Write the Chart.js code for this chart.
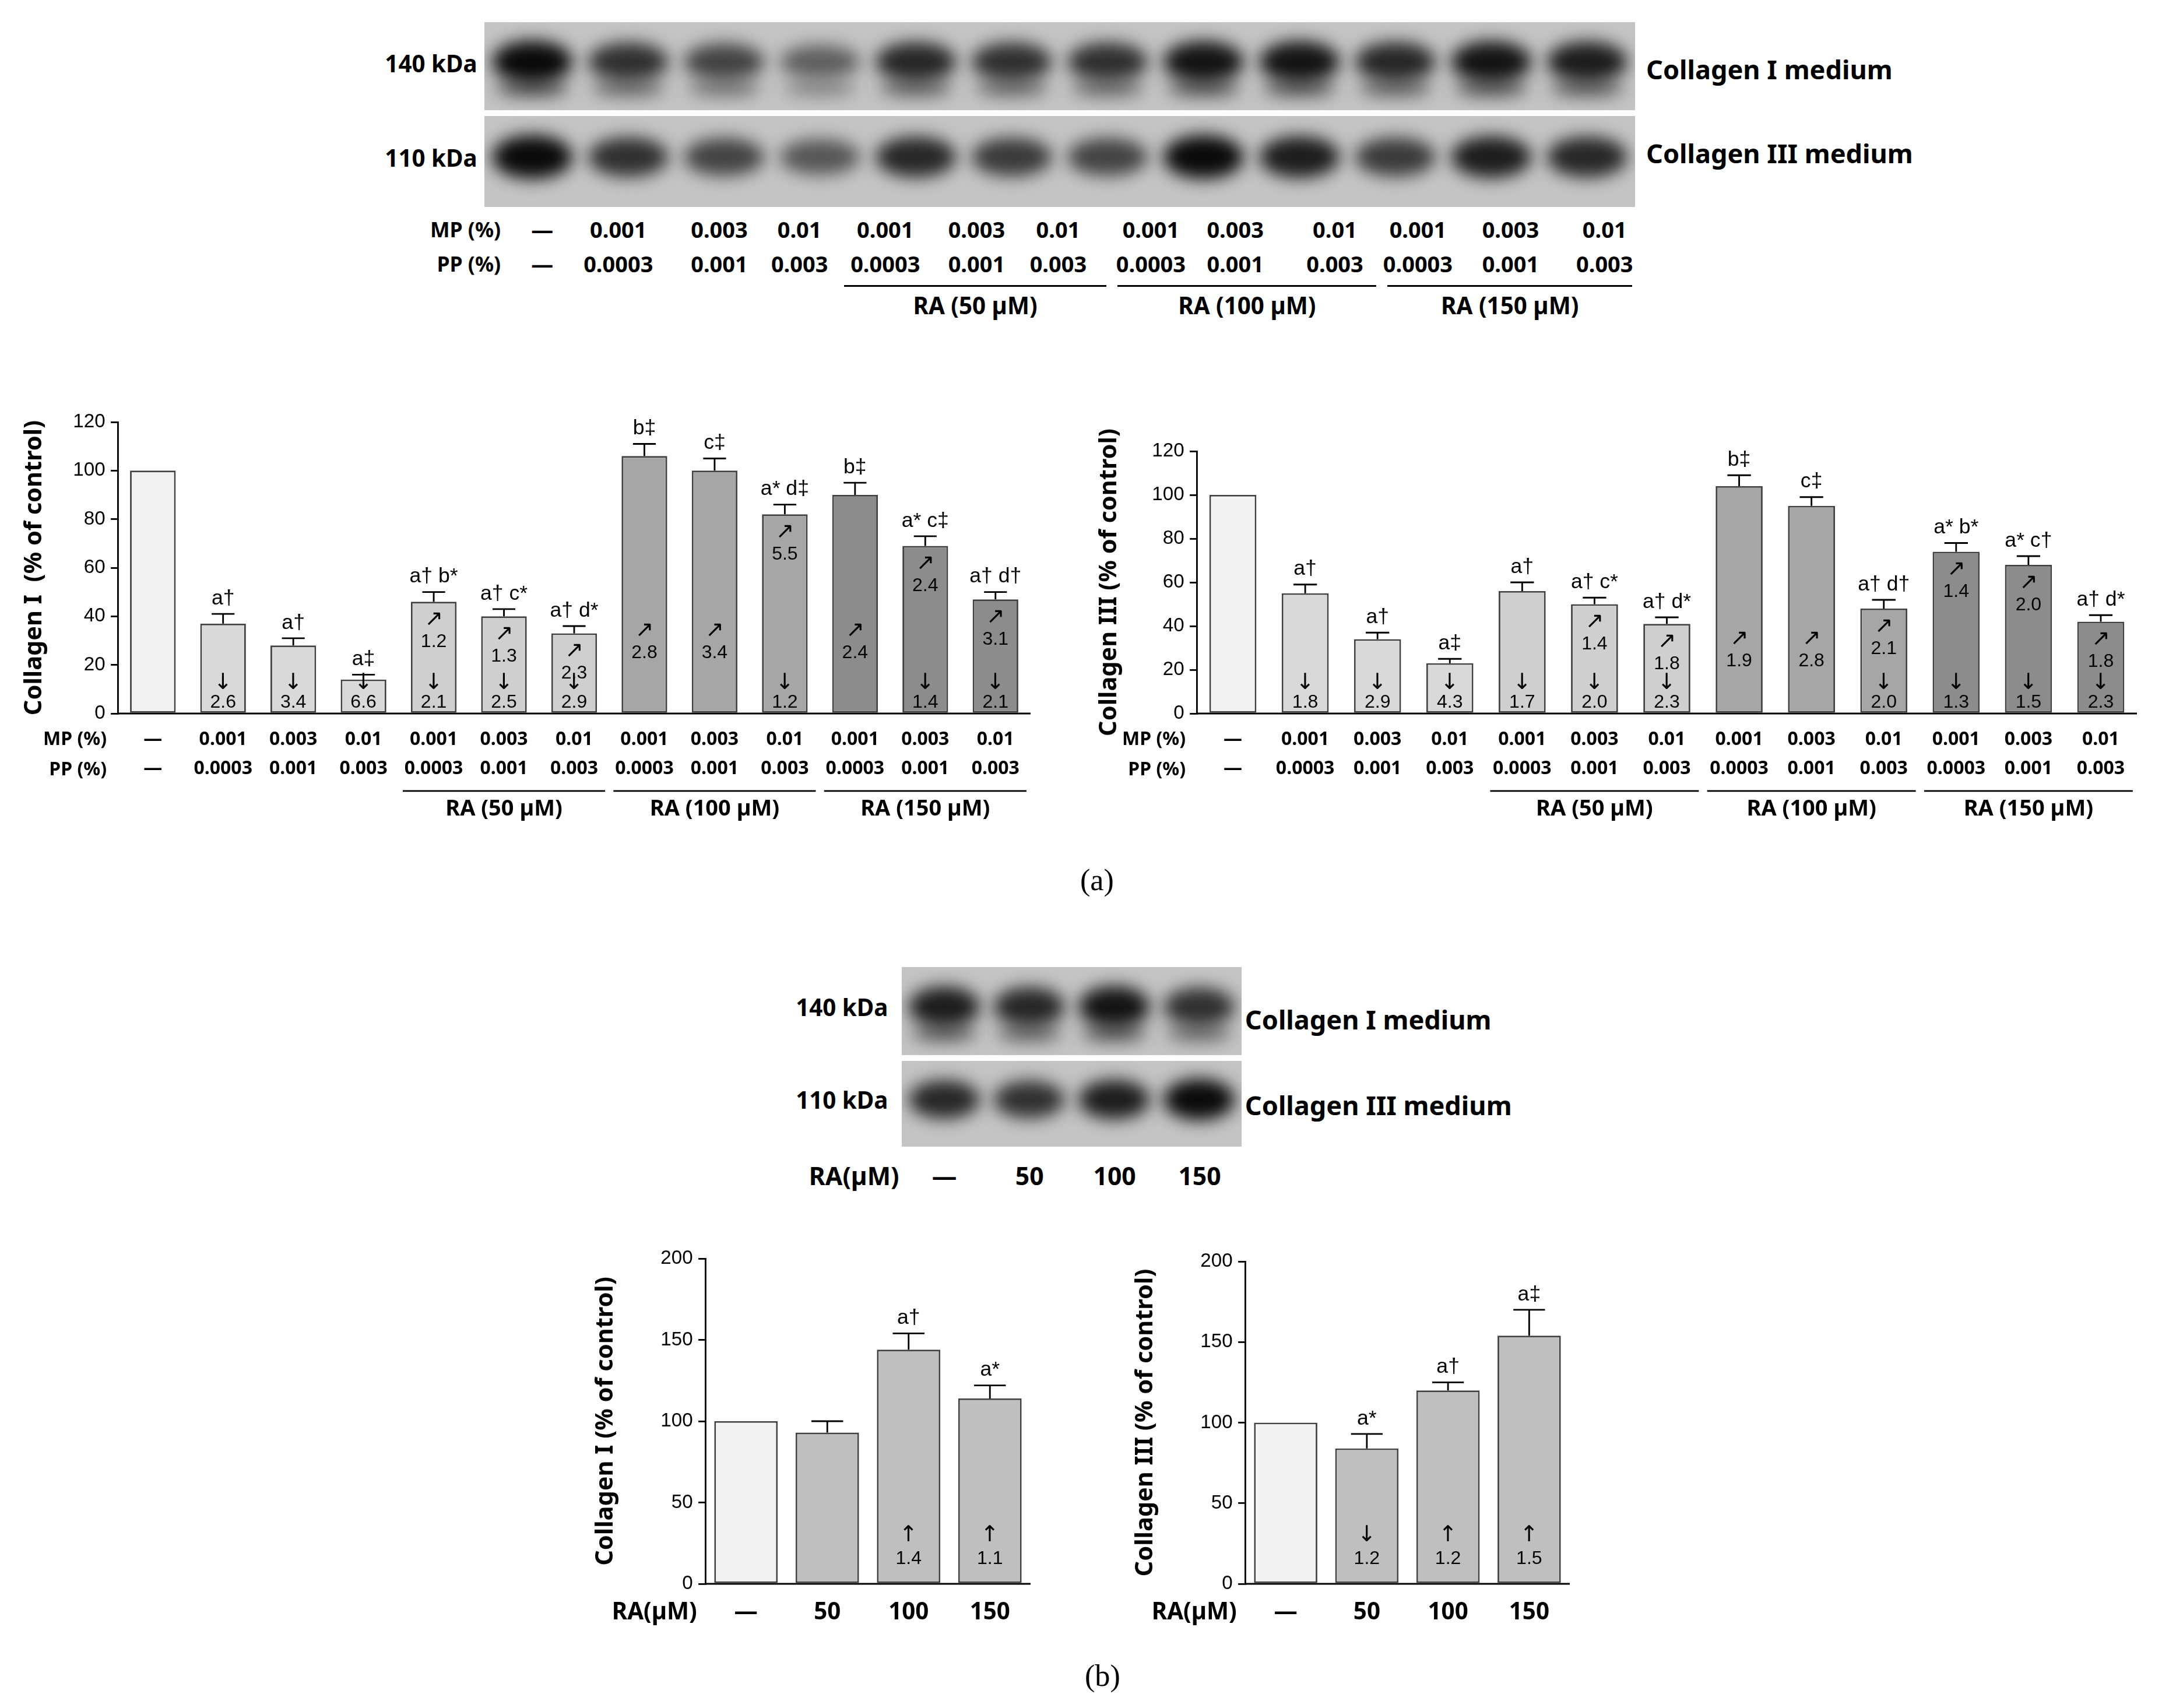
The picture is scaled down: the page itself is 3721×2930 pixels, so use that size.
<!DOCTYPE html>
<html><head><meta charset="utf-8">
<script src="https://cdn.jsdelivr.net/npm/chart.js@4"></script>
<style>
body{margin:0;width:3721px;height:2930px;background:#fff;position:relative;overflow:hidden;font-family:"Liberation Sans",Arial,sans-serif}
.t{position:absolute;white-space:nowrap;color:#000;line-height:1}
canvas{position:absolute}
</style></head><body>
<script>
const S = 3721/1568;
// ---------- DATA ----------
const mpLabels = ["—","0.001","0.003","0.01","0.001","0.003","0.01","0.001","0.003","0.01","0.001","0.003","0.01"];
const ppLabels = ["—","0.0003","0.001","0.003","0.0003","0.001","0.003","0.0003","0.001","0.003","0.0003","0.001","0.003"];
const raGroups = ["RA (50 µM)","RA (100 µM)","RA (150 µM)"];
const raLabels = ["—","50","100","150"];

const col1Values = [100,37,28,14,46,40,33,106,100,82,90,69,47];
const col1Err    = [0,4,3,2,4,3,3,5,5,4,5,4,3];
const col1Top    = ["","a†","a†","a‡","a† b*","a† c*","a† d*","b‡","c‡","a* d‡","b‡","a* c‡","a† d†"];
const col1Up     = [null,null,null,null,"1.2","1.3","2.3","2.8","3.4","5.5","2.4","2.4","3.1"];
const col1Down   = [null,"2.6","3.4","6.6","2.1","2.5","2.9",null,null,"1.2",null,"1.4","2.1"];

const col3Values = [100,55,34,23,56,50,41,104,95,48,74,68,42];
const col3Err    = [0,4,3,2,4,3,3,5,4,4,4,4,3];
const col3Top    = ["","a†","a†","a‡","a†","a† c*","a† d*","b‡","c‡","a† d†","a* b*","a* c†","a† d*"];
const col3Up     = [null,null,null,null,null,"1.4","1.8","1.9","2.8","2.1","1.4","2.0","1.8"];
const col3Down   = [null,"1.8","2.9","4.3","1.7","2.0","2.3",null,null,"2.0","1.3","1.5","2.3"];

const raCol1Values = [100,93,144,114];
const raCol1Err    = [0,7,10,8];
const raCol1Top    = ["","","a†","a*"];
const raCol1Up     = [null,null,"1.4","1.1"];
const raCol1Down   = [null,null,null,null];

const raCol3Values = [100,84,120,154];
const raCol3Err    = [0,9,5,16];
const raCol3Top    = ["","a*","a†","a‡"];
const raCol3Up     = [null,null,"1.2","1.5"];
const raCol3Down   = [null,"1.2",null,null];

// blot band intensities (0..1)
const blotA1 = [1,.8,.7,.55,.85,.8,.8,.95,.95,.85,.95,.9];
const blotA3 = [1,.8,.7,.6,.85,.75,.7,1,.9,.75,.9,.85];
const blotB1 = [.9,.85,.95,.8];
const blotB3 = [.85,.8,.9,1];

const barColorsA = ["#f2f2f2","#d9d9d9","#d9d9d9","#d9d9d9","#cfcfcf","#cfcfcf","#cfcfcf","#a6a6a6","#a6a6a6","#a6a6a6","#8c8c8c","#8c8c8c","#8c8c8c"];
const barColorsB = ["#f2f2f2","#bfbfbf","#bfbfbf","#bfbfbf"];

// ---------- helpers ----------
function T(x,y,txt,size,anchor,opts={}){
  const d=document.createElement('div');d.className='t';d.textContent=txt;
  d.style.left=(x*S)+'px';d.style.top=(y*S)+'px';d.style.fontSize=(size*S)+'px';
  d.style.fontWeight=opts.bold?'bold':'normal';
  if(opts.font)d.style.fontFamily=opts.font;
  const tx=anchor==='c'?'-50%':anchor==='r'?'-100%':'0';
  d.style.transform=`translate(${tx},-50%)`;
  document.body.appendChild(d);return d;
}
function line(x1,y1,x2,y2,w){
  const d=document.createElement('div');d.style.position='absolute';
  d.style.left=x1*S+'px';d.style.top=y1*S+'px';d.style.width=(x2-x1)*S+'px';d.style.height=(w||1.2)*S+'px';d.style.background='#000';
  document.body.appendChild(d);
}
const BF='"Noto Sans","Open Sans",sans-serif';

// ---------- blots ----------
function blot(x,y,w,h,vals,twoBand){
  const c=document.createElement('canvas');c.width=w*S;c.height=h*S;c.style.left=x*S+'px';c.style.top=y*S+'px';
  document.body.appendChild(c);const g=c.getContext('2d');
  g.fillStyle='#c4c4c4';g.fillRect(0,0,c.width,c.height);
  const lw=c.width/vals.length;
  g.filter=`blur(${6*S}px)`;
  vals.forEach((v,i)=>{
    const cx=lw*(i+0.5),cy=c.height*0.45;
    const k=Math.round(200-190*v);
    g.fillStyle=`rgb(${k},${k},${k})`;
    g.beginPath();g.ellipse(cx,cy,lw*0.42,c.height*0.22*(0.6+0.5*v),0,0,Math.PI*2);g.fill();
    if(twoBand){g.fillStyle=`rgba(${k},${k},${k},0.6)`;g.beginPath();g.ellipse(cx,c.height*0.75,lw*0.38,c.height*0.1,0,0,Math.PI*2);g.fill();}
  });
}
blot(350,16,832,64,blotA1,true);
blot(350,84,832,66,blotA3,false);
blot(652,699,246,64,blotB1,true);
blot(652,767,246,62,blotB3,false);

T(345,46,"140 kDa",17,'r',{bold:1,font:BF});
T(345,114,"110 kDa",17,'r',{bold:1,font:BF});
T(1190,50,"Collagen I  medium",19,'l',{bold:1,font:BF});
T(1190,111,"Collagen III medium",19,'l',{bold:1,font:BF});
T(362,166,"MP (%)",15,'r',{bold:1,font:BF});
T(362,191,"PP (%)",15,'r',{bold:1,font:BF});
const topCols=[392,447,520,578,640,706,765,832,893,965,1025,1092,1160];
for(let i=0;i<13;i++){
  T(topCols[i],166,mpLabels[i],16,'c',{bold:1,font:BF});
  T(topCols[i],191,ppLabels[i],16,'c',{bold:1,font:BF});
}
const topGroups=[[610,800],[808,995],[1003,1180]];
topGroups.forEach(([a,b],gI)=>{line(a,206,b,206);T((a+b)/2,221,raGroups[gI],17,'c',{bold:1,font:BF});});
T(642,728,"140 kDa",17,'r',{bold:1,font:BF});
T(642,795,"110 kDa",17,'r',{bold:1,font:BF});
T(900,737,"Collagen I medium",19,'l',{bold:1,font:BF});
T(900,799,"Collagen  III medium",19,'l',{bold:1,font:BF});
T(650,850,"RA(µM)",18,'r',{bold:1,font:BF});
for(let i=0;i<4;i++)T(652+246/4*(i+0.5),850,raLabels[i],18,'c',{bold:1,font:BF});
T(793,636,"(a)",22,'c',{font:'"Liberation Serif",serif'});
T(797,1211,"(b)",22,'c',{font:'"Liberation Serif",serif'});

// ---------- charts ----------
const annot={id:'annot',afterDatasetsDraw(chart){
  const o=chart.options.plugins.annot;const g=chart.ctx;const ys=chart.scales.y;const xs=chart.scales.x;
  const meta=chart.getDatasetMeta(0);const ca=chart.chartArea;
  g.save();g.strokeStyle='#000';g.lineWidth=1.2*S;g.fillStyle='#000';g.textAlign='center';g.textBaseline='middle';
  g.beginPath();g.moveTo(ca.left,ca.bottom);g.lineTo(ca.right,ca.bottom);g.stroke();
  meta.data.forEach((bar,i)=>{
    const v=o.values[i],e=o.err[i];const x=bar.x;const top=ys.getPixelForValue(v+e);
    if(e>0){g.beginPath();g.moveTo(x,bar.y);g.lineTo(x,top);g.moveTo(x-bar.width*0.25,top);g.lineTo(x+bar.width*0.25,top);g.stroke();}
    g.font=`${15*S}px "Liberation Sans",Arial`;
    if(o.top[i])g.fillText(o.top[i],x,top-11*S);
    const af=`${16*S}px "DejaVu Sans"`,nf=`${13.5*S}px "Liberation Sans",Arial`;
    if(o.mode==='a'){
      if(o.up[i]){
        let ya=o.down[i]?bar.y+13*S:Math.max(ys.getPixelForValue(34),bar.y+13*S);
        g.font=af;g.fillText("↗",x,ya);g.font=nf;g.fillText(o.up[i],x,ya+16*S);
      }
      if(o.down[i]){g.font=af;g.fillText("↓",x,ca.bottom-22*S);g.font=nf;g.fillText(o.down[i],x,ca.bottom-8*S);}
    } else {
      if(o.up[i]){g.font=af;g.fillText("↑",x,ca.bottom-35*S);g.font=nf;g.fillText(o.up[i],x,ca.bottom-18*S);}
      if(o.down[i]){g.font=af;g.fillText("↓",x,ca.bottom-35*S);g.font=nf;g.fillText(o.down[i],x,ca.bottom-18*S);}
    }
  });
  g.save();g.translate(ca.left-o.titleOff*S,(ca.top+ca.bottom)/2);g.rotate(-Math.PI/2);
  g.font=`bold ${17.5*S}px ${BF}`;g.fillText(o.title,0,0);g.restore();
  const slot=(xs.getPixelForValue(1)-xs.getPixelForValue(0));
  if(o.mode==='a'){
    g.textAlign='right';g.font=`bold ${13.5*S}px ${BF}`;
    g.fillText("MP (%)",ca.left-8*S,ca.bottom+19*S);g.fillText("PP (%)",ca.left-8*S,ca.bottom+41*S);
    g.textAlign='center';
    mpLabels.forEach((t,i)=>{const x=xs.getPixelForValue(i);g.fillText(t,x,ca.bottom+19*S);g.fillText(ppLabels[i],x,ca.bottom+40*S);});
    for(let k=0;k<3;k++){
      const a=xs.getPixelForValue(4+k*3)-slot/2+3*S,b=xs.getPixelForValue(6+k*3)+slot/2-3*S;
      g.beginPath();g.moveTo(a,ca.bottom+56*S);g.lineTo(b,ca.bottom+56*S);g.stroke();
      g.font=`bold ${16*S}px ${BF}`;g.fillText(raGroups[k],(a+b)/2,ca.bottom+69*S);
    }
  } else {
    g.font=`bold ${17*S}px ${BF}`;g.textAlign='right';g.fillText("RA(µM)",ca.left-6*S,ca.bottom+21*S);
    g.textAlign='center';raLabels.forEach((t,i)=>g.fillText(t,xs.getPixelForValue(i),ca.bottom+21*S));
  }
  g.restore();
}};
function makeChart(box,vals,err,top,up,down,colors,mode,ymax,step,title,titleOff,barPct,pad){
  const c=document.createElement('canvas');
  c.style.left=box[0]+'px';c.style.top=box[1]+'px';c.style.width=box[2]+'px';c.style.height=box[3]+'px';
  c.width=box[2];c.height=box[3];document.body.appendChild(c);
  new Chart(c,{type:'bar',data:{labels:vals.map((_,i)=>i),datasets:[{data:vals,backgroundColor:colors,borderColor:'#404040',borderWidth:1.2*S,borderSkipped:false,barPercentage:barPct,categoryPercentage:1}]},
    options:{responsive:false,animation:false,devicePixelRatio:1,layout:{padding:pad},
      plugins:{legend:{display:false},tooltip:{enabled:false},annot:{values:vals,err,top,up,down,mode,title,titleOff}},
      scales:{x:{display:false},
        y:{min:0,max:ymax,ticks:{stepSize:step,color:'#000',font:{size:14*S,family:'"Liberation Sans",Arial'},padding:4*S},
          grid:{drawOnChartArea:false,drawTicks:true,tickLength:5*S,color:'#000',lineWidth:1.2*S},border:{display:true,color:'#000',width:1.2*S},
          afterFit(s){s.width=100;}}}},
    plugins:[annot]});
}
makeChart([0,600,1800,850],col1Values,col1Err,col1Top,col1Up,col1Down,barColorsA,'a',120,20,"Collagen I  (% of control)",60,0.65,{left:102,right:32,top:124,bottom:226});
makeChart([1850,600,1871,850],col3Values,col3Err,col3Top,col3Up,col3Down,barColorsA,'a',120,20,"Collagen III (% of control)",63,0.65,{left:103,right:55,top:174,bottom:226});
makeChart([1000,2050,800,780],raCol1Values,raCol1Err,raCol1Top,raCol1Up,raCol1Down,barColorsB,'b',200,50,"Collagen I (% of control)",72,0.78,{left:110,right:32,top:109,bottom:113});
makeChart([1930,2050,800,780],raCol3Values,raCol3Err,raCol3Top,raCol3Up,raCol3Down,barColorsB,'b',200,50,"Collagen III (% of control)",72,0.78,{left:106,right:37,top:114,bottom:113});
</script>
</body></html>
